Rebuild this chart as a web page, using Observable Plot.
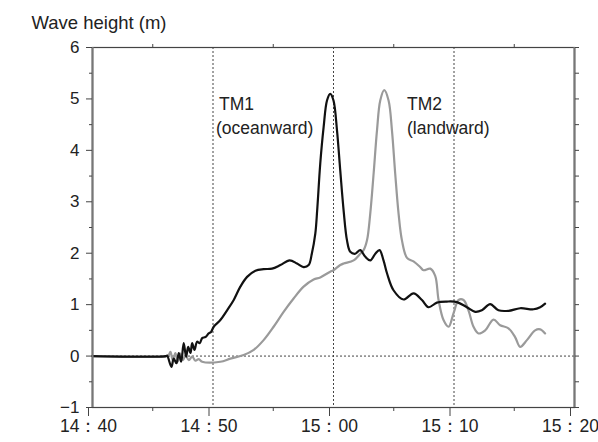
<!DOCTYPE html>
<html>
<head>
<meta charset="utf-8">
<script src="https://cdn.jsdelivr.net/npm/d3@7"></script>
<script src="https://cdn.jsdelivr.net/npm/@observablehq/plot@0.6"></script>
<style>
  html, body { margin: 0; padding: 0; background: white; }
</style>
</head>
<body>
<div id="chart"></div>
<script>
// time in minutes after 14:40, wave height in metres
const tm1Time = [0, 6.1, 6.19, 6.55, 6.74, 6.97, 7.16, 7.36, 7.57, 7.77, 7.94, 8.13, 8.27, 8.46, 8.68, 8.90, 9.10, 9.37, 9.64, 9.84, 10.06, 10.61, 11.17, 11.72, 12.27, 12.83, 13.52, 14.2, 14.9, 15.59, 16.36, 16.97, 17.52, 17.94, 18.2, 18.49, 18.65, 18.9, 19.18, 19.46, 19.73, 20.0, 20.29, 20.56, 20.84, 21.12, 21.39, 21.81, 22.22, 22.64, 23.05, 23.47, 23.82, 24.15, 24.44, 24.98, 25.81, 26.64, 27.34, 27.89, 28.58, 29.41, 30.24, 31.07, 31.76, 32.31, 33.0, 33.69, 34.52, 35.49, 36.6, 37.15, 37.56];
const tm1Height = [0, 0, 0.01, -0.21, -0.05, -0.14, 0.06, -0.11, 0.25, -0.01, 0.18, 0.06, 0.25, 0.12, 0.28, 0.25, 0.35, 0.37, 0.44, 0.47, 0.57, 0.70, 0.89, 1.09, 1.35, 1.54, 1.66, 1.69, 1.70, 1.77, 1.86, 1.80, 1.73, 1.77, 1.99, 2.38, 2.85, 3.74, 4.45, 4.97, 5.10, 4.97, 4.39, 3.61, 2.83, 2.25, 2.03, 1.99, 2.06, 1.93, 1.86, 1.99, 2.06, 1.86, 1.61, 1.28, 1.10, 1.22, 1.09, 0.95, 1.04, 1.06, 1.05, 0.95, 0.86, 0.89, 1.01, 0.89, 0.88, 0.93, 0.91, 0.95, 1.02];

const tm2Time = [0, 6.2, 6.33, 6.47, 6.66, 6.88, 7.07, 7.3, 7.52, 7.71, 7.99, 8.27, 8.54, 8.82, 9.1, 10.61, 11.44, 12.55, 13.38, 14.2, 15.03, 15.86, 16.69, 17.52, 18.35, 18.9, 19.73, 20.0, 20.56, 20.84, 21.67, 22.22, 22.5, 22.78, 23.05, 23.33, 23.61, 23.88, 24.21, 24.57, 24.85, 25.12, 25.4, 25.68, 26.1, 26.64, 27.2, 27.47, 28.03, 28.44, 28.72, 29.13, 29.55, 29.96, 30.38, 30.79, 31.2, 31.62, 32.03, 32.59, 33.28, 33.83, 34.52, 35.07, 35.49, 36.05, 36.73, 37.15, 37.56];
const tm2Height = [0, 0, 0.02, 0.08, -0.08, 0.06, -0.11, 0.05, -0.08, 0.02, -0.08, -0.01, -0.09, -0.06, -0.11, -0.11, -0.05, 0.02, 0.12, 0.31, 0.57, 0.86, 1.12, 1.35, 1.49, 1.53, 1.64, 1.67, 1.77, 1.80, 1.86, 1.99, 2.06, 2.25, 2.77, 3.55, 4.39, 4.97, 5.17, 4.97, 4.39, 3.55, 2.77, 2.25, 1.91, 1.84, 1.73, 1.67, 1.70, 1.56, 1.09, 0.70, 0.57, 0.83, 1.09, 1.09, 0.89, 0.57, 0.44, 0.50, 0.71, 0.60, 0.54, 0.37, 0.18, 0.31, 0.50, 0.52, 0.44];

const xTicks = [0, 10, 20, 30, 40];
const xTickLabels = ["14：40", "14：50", "15：00", "15：10", "15：20"];
const xMinorTicks = [5, 15, 25, 35];
const xGrid = [10, 20, 30];
const yTicks = [-1, 0, 1, 2, 3, 4, 5, 6];
const yMinorTicks = [-0.5, 0.5, 1.5, 2.5, 3.5, 4.5, 5.5];
const yLabel = "Wave height (m)";
const seriesLabels = ["TM1", "(oceanward)", "TM2", "(landward)"];

const tm1 = tm1Time.map((t, i) => ({t, h: tm1Height[i]}));
const tm2 = tm2Time.map((t, i) => ({t, h: tm2Height[i]}));
const annotations = [
  {t: 10.5, h: 4.89, text: seriesLabels[0]},
  {t: 10.25, h: 4.43, text: seriesLabels[1]},
  {t: 26.1, h: 4.89, text: seriesLabels[2]},
  {t: 26.1, h: 4.43, text: seriesLabels[3]}
];

const font = "'Liberation Sans', Arial, sans-serif";
const axisColor = "#444";
const blank = () => "";

const chart = Plot.plot({
  width: 598,
  height: 442,
  marginLeft: 92,
  marginRight: 24,
  marginTop: 47,
  marginBottom: 35,
  style: {fontFamily: font, fontSize: "17px", color: "#222", background: "white"},
  x: {domain: [0, 40]},
  y: {domain: [-1, 6]},
  marks: [
    Plot.ruleX(xGrid, {stroke: "#444", strokeDasharray: "2,2", strokeWidth: 1}),
    Plot.ruleY([0], {stroke: "#444", strokeDasharray: "2,2", strokeWidth: 1}),
    Plot.line(tm2, {x: "t", y: "h", stroke: "#9a9a9a", strokeWidth: 2.2, curve: "catmull-rom"}),
    Plot.line(tm1, {x: "t", y: "h", stroke: "#111", strokeWidth: 2.2, curve: "catmull-rom"}),
    Plot.frame({stroke: axisColor, strokeWidth: 1.2}),
    Plot.ruleX([0, 40], {stroke: "#777", strokeWidth: 2.2}),
    Plot.axisY({ticks: yTicks, tickSize: 6, tickPadding: 7, tickFormat: "d", label: null, stroke: axisColor, fontSize: 17}),
    Plot.axisY({ticks: yMinorTicks, tickSize: 3, tickFormat: blank, label: null, stroke: axisColor}),
    Plot.axisY({anchor: "right", ticks: yTicks.concat(yMinorTicks), tickSize: 4, tickFormat: blank, label: null, stroke: axisColor}),
    Plot.axisX({ticks: xTicks, tickSize: 9, tickPadding: 3, label: null, stroke: axisColor, fontSize: 17.5, dx: -4,
      tickFormat: d => xTickLabels[xTicks.indexOf(d)]}),
    Plot.axisX({ticks: xMinorTicks, tickSize: 4, tickFormat: blank, label: null, stroke: axisColor}),
    Plot.axisX({anchor: "top", ticks: xMinorTicks, tickSize: 4, tickFormat: blank, label: null, stroke: axisColor}),
    Plot.text([yLabel], {frameAnchor: "top-left", dx: -61, dy: -32, textAnchor: "start", lineAnchor: "top", fontSize: 18.5, fill: "#222"}),
    Plot.text(annotations, {x: "t", y: "h", text: "text", textAnchor: "start", lineAnchor: "middle", fontSize: 17.5, fill: "#222"})
  ]
});
document.getElementById("chart").appendChild(chart);
</script>
</body>
</html>
